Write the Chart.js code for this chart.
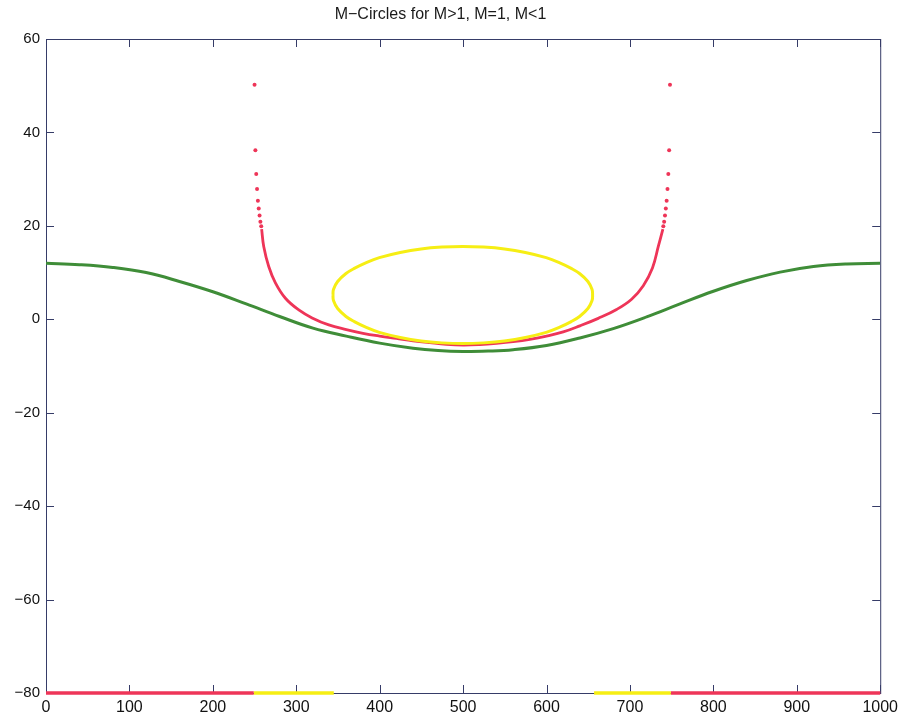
<!DOCTYPE html>
<html>
<head>
<meta charset="utf-8">
<script src="https://cdn.jsdelivr.net/npm/chart.js@4.4.0/dist/chart.umd.min.js"></script>
<style>
  html, body { margin: 0; padding: 0; background: #fff; }
  #wrap { width: 903px; height: 721px; }
</style>
</head>
<body>
<div id="wrap"><canvas id="grafico"></canvas></div>
<script>
// valores
const titulo = 'M\u2212Circles for M>1, M=1, M<1'
const ticksX = [0, 100, 200, 300, 400, 500, 600, 700, 800, 900, 1000]
const ticksY = [-80, -60, -40, -20, 0, 20, 40, 60]

// curva verde (M<1)
const verdeX = [0, 40, 80, 120, 160, 200, 240, 280, 320, 360, 400, 440, 470, 500, 530, 560, 600, 640, 680, 720, 760, 800, 840, 880, 920, 960, 1000]
const verdeY = [12.0, 11.7, 11.1, 10.0, 8.1, 5.9, 3.3, 0.6, -1.9, -3.6, -5.1, -6.2, -6.7, -6.9, -6.8, -6.5, -5.6, -4.0, -2.0, 0.5, 3.3, 6.0, 8.3, 10.1, 11.3, 11.85, 12.0]

// curva roja (M=1), tramo continuo
const rojoX = [258.5, 261, 267, 275, 287, 303, 319, 339, 360, 380, 400, 420, 440, 460, 480, 500, 520, 540, 560, 580, 600, 620, 640, 662, 684, 702, 716, 727, 734, 739.5]
const rojoY = [19.3, 15.6, 11.3, 7.8, 4.5, 2.0, 0.3, -1.2, -2.2, -3.0, -3.6, -4.1, -4.6, -5.0, -5.35, -5.5, -5.4, -5.15, -4.8, -4.3, -3.6, -2.7, -1.4, 0.2, 2.1, 4.3, 7.2, 11.0, 15.6, 19.3]

// puntos sueltos arriba
const puntosX = [250, 251, 252, 253, 254, 255, 256, 257, 258, 748, 747, 746, 745, 744, 743, 742, 741, 740]
const puntosY = [50.2, 36.2, 31.1, 27.9, 25.4, 23.7, 22.2, 20.9, 19.9, 50.2, 36.2, 31.1, 27.9, 25.4, 23.7, 22.2, 20.9, 19.9]

// elipse amarilla (M>1)
const elipseX = [344, 344.6, 349.6, 359.6, 369.6, 384.6, 399.6, 424.6, 449.6, 474.6, 499.6, 524.6, 549.6, 574.6, 599.6, 614.6, 629.6, 639.6, 649.6, 654.6, 655.2,
                 654.6, 649.6, 639.6, 629.6, 614.6, 599.6, 574.6, 549.6, 524.6, 499.6, 474.6, 449.6, 424.6, 399.6, 384.6, 369.6, 359.6, 349.6, 344.6, 344]
const elipseY = [5.2, 6.4, 8.1, 9.8, 10.9, 12.2, 13.2, 14.3, 15.05, 15.45, 15.6, 15.45, 15.05, 14.3, 13.2, 12.2, 10.9, 9.8, 8.1, 6.4, 5.2,
                 4.0, 2.3, 0.6, -0.5, -1.8, -2.8, -3.9, -4.65, -5.05, -5.2, -5.05, -4.65, -3.9, -2.8, -1.8, -0.5, 0.6, 2.3, 4.0, 5.2]

// tramos sobre el eje inferior
const baseY = -80
const tramoRojoIzq = [0, 249]
const tramoAmarilloIzq = [249, 345]
const tramoAmarilloDer = [657, 749]
const tramoRojoDer = [749, 1000]

const colorEje = '#363c68'
const verde = '#3f8d38'
const rojo = '#ee3558'
const amarillo = '#f6ee14'
const fuente = 'Liberation Sans, Arial, sans-serif'

const pares = (xs, ys) => xs.map((x, i) => ({ x: x, y: ys[i] }))
const tramo = (xs) => xs.map(x => ({ x: x, y: baseY }))

// ticks hacia adentro y caja, estilo matlab
const cajaMatlab = {
    id: 'cajaMatlab',
    beforeDatasetsDraw(chart) {
        const { ctx, chartArea: a, scales } = chart
        const largo = 8
        ctx.save()
        ctx.strokeStyle = colorEje
        ctx.lineWidth = 1
        ctx.strokeRect(a.left + 0.5, a.top + 0.5, a.right - a.left, a.bottom - a.top)
        ctx.beginPath()
        ticksX.forEach(v => {
            const px = Math.round(scales.x.getPixelForValue(v)) + 0.5
            ctx.moveTo(px, a.bottom); ctx.lineTo(px, a.bottom - largo)
            ctx.moveTo(px, a.top); ctx.lineTo(px, a.top + largo)
        })
        ticksY.forEach(v => {
            const py = Math.round(scales.y.getPixelForValue(v)) + 0.5
            ctx.moveTo(a.left, py); ctx.lineTo(a.left + largo, py)
            ctx.moveTo(a.right, py); ctx.lineTo(a.right - largo, py)
        })
        ctx.stroke()
        ctx.restore()
    }
}

const linea = (datos, color, ancho) => ({
    data: datos,
    showLine: true,
    borderColor: color,
    backgroundColor: color,
    borderWidth: ancho,
    pointRadius: 0,
    tension: 0.4
})

const segmento = (datos, color) => ({
    data: datos,
    showLine: true,
    borderColor: color,
    borderWidth: 3.5,
    pointRadius: 0,
    tension: 0,
    clip: false
})

const grafico = new Chart(document.getElementById('grafico'), {
    type: 'scatter',
    data: {
        datasets: [
            linea(pares(verdeX, verdeY), verde, 3),
            linea(pares(elipseX, elipseY), amarillo, 3),
            linea(pares(rojoX, rojoY), rojo, 2.8),
            {
                data: pares(puntosX, puntosY),
                showLine: false,
                pointRadius: 2,
                pointBorderWidth: 0,
                backgroundColor: rojo
            },
            segmento(tramo(tramoRojoIzq), rojo),
            segmento(tramo(tramoAmarilloIzq), amarillo),
            segmento(tramo(tramoAmarilloDer), amarillo),
            segmento(tramo(tramoRojoDer), rojo)
        ]
    },
    options: {
        responsive: true,
        maintainAspectRatio: false,
        animation: false,
        layout: { padding: { left: 0, right: 22, top: 0, bottom: 0 } },
        plugins: {
            legend: { display: false },
            tooltip: { enabled: false },
            title: {
                display: true,
                text: titulo,
                color: '#1a1a1a',
                font: { family: fuente, size: 16, weight: 'normal', lineHeight: 1.2 },
                padding: { top: 5, bottom: 14.8 }
            }
        },
        scales: {
            x: {
                type: 'linear',
                min: 0,
                max: 1000,
                afterFit: (s) => { s.height = 28 },
                grid: { display: false, drawTicks: false },
                border: { display: false },
                ticks: {
                    stepSize: 100,
                    padding: 5,
                    maxRotation: 0,
                    color: '#111',
                    font: { family: fuente, size: 16 },
                    callback: (v) => String(v)
                }
            },
            y: {
                type: 'linear',
                min: -80,
                max: 60,
                afterFit: (s) => { s.width = 46 },
                grid: { display: false, drawTicks: false },
                border: { display: false },
                ticks: {
                    stepSize: 20,
                    padding: 6,
                    color: '#111',
                    font: { family: fuente, size: 15 },
                    callback: (v) => String(v).replace('-', '\u2212')
                }
            }
        }
    },
    plugins: [cajaMatlab]
})
</script>
</body>
</html>
